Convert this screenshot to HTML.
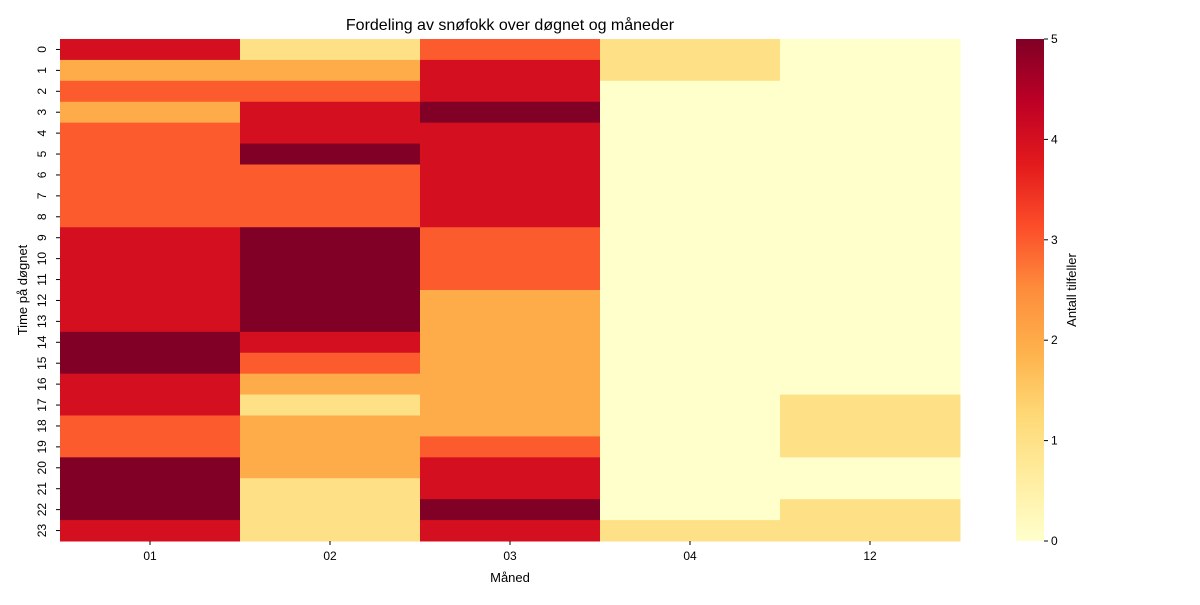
<!DOCTYPE html>
<html><head><meta charset="utf-8"><style>
body{margin:0;background:#fff;}
svg text{font-family:"Liberation Sans","DejaVu Sans",sans-serif;fill:#000;}
</style></head><body>
<svg id="chart" width="1200" height="600" xmlns="http://www.w3.org/2000/svg">
<defs><linearGradient id="cb" x1="0" y1="1" x2="0" y2="0">
<stop offset="0" stop-color="#ffffcc"/><stop offset="0.125" stop-color="#ffeda0"/><stop offset="0.25" stop-color="#fed976"/><stop offset="0.375" stop-color="#feb24c"/><stop offset="0.5" stop-color="#fd8d3c"/><stop offset="0.625" stop-color="#fc4e2a"/><stop offset="0.75" stop-color="#e31a1c"/><stop offset="0.875" stop-color="#bd0026"/><stop offset="1" stop-color="#800026"/>
</linearGradient></defs>
<text x="510" y="30" font-size="16" text-anchor="middle">Fordeling av snøfokk over døgnet og måneder</text>
<g id="cells"></g>
<g id="axes"></g>
<rect x="1016" y="39" width="28" height="502" fill="url(#cb)"/>
<text x="510" y="582" font-size="13" text-anchor="middle">Måned</text>
<text transform="translate(27,290) rotate(-90)" font-size="13" text-anchor="middle">Time på døgnet</text>
<text transform="translate(1076,290) rotate(-90)" font-size="13" text-anchor="middle">Antall tilfeller</text>
</svg>
<script>
const months = ["01","02","03","04","12"];
const hours = ["0","1","2","3","4","5","6","7","8","9","10","11","12","13","14","15","16","17","18","19","20","21","22","23"];
const m01 = [4,2,3,2,3,3,3,3,3,4,4,4,4,4,5,5,4,4,3,3,5,5,5,4];
const m02 = [1,2,3,4,4,5,3,3,3,5,5,5,5,5,4,3,2,1,2,2,2,1,1,1];
const m03 = [3,4,4,5,4,4,4,4,4,3,3,3,2,2,2,2,2,2,2,3,4,4,5,4];
const m04 = [1,1,0,0,0,0,0,0,0,0,0,0,0,0,0,0,0,0,0,0,0,0,0,1];
const m12 = [0,0,0,0,0,0,0,0,0,0,0,0,0,0,0,0,0,1,1,1,0,0,1,1];
const cbTicks = [0,1,2,3,4,5];
const series = [m01,m02,m03,m04,m12];
const vmax = 5;
const X0=60,X1=960,Y0=39,Y1=541;
const cw=(X1-X0)/months.length, ch=(Y1-Y0)/hours.length;
const xs=i=>X0+i*cw, ys=j=>Y0+j*ch, cy=v=>Y1-(v/vmax)*(Y1-Y0);
const stops=["#ffffcc","#ffeda0","#fed976","#feb24c","#fd8d3c","#fc4e2a","#e31a1c","#bd0026","#800026"];
function hex(h){return [1,3,5].map(k=>parseInt(h.substr(k,2),16));}
function color(v){let t=Math.max(0,Math.min(1,v/vmax))*(stops.length-1);let i=Math.min(Math.floor(t),stops.length-2);let f=t-i;let a=hex(stops[i]),b=hex(stops[i+1]);return "rgb("+a.map((c,k)=>Math.round(c+(b[k]-c)*f)).join(",")+")";}
const NS="http://www.w3.org/2000/svg";
const cells=document.getElementById("cells"), axes=document.getElementById("axes");
function mk(tag,attrs,parent){const e=document.createElementNS(NS,tag);for(const k in attrs)e.setAttribute(k,attrs[k]);parent.appendChild(e);return e;}
series.forEach((s,i)=>s.forEach((v,j)=>{
  const r=mk("rect",{x:xs(i),y:ys(j),width:cw+0.5,height:ch+0.5,fill:color(v)},cells);
  
  
}));
months.forEach((m,i)=>{
  const x=xs(i)+cw/2;
  mk("line",{x1:x,x2:x,y1:Y1,y2:Y1+4,stroke:"#000"},axes);
  const t=mk("text",{x:x,y:Y1+19,"font-size":12,"text-anchor":"middle"},axes);
  t.textContent=m;
  
  
});
hours.forEach((h,j)=>{
  const y=ys(j)+ch/2;
  mk("line",{x1:X0-4,x2:X0,y1:y,y2:y,stroke:"#000"},axes);
  const t=mk("text",{transform:"translate(46,"+y+") rotate(-90)","font-size":12,"text-anchor":"middle"},axes);
  t.textContent=h;
  
  
});
cbTicks.forEach(v=>{
  const y=cy(v);
  mk("line",{x1:1044,x2:1048,y1:y,y2:y,stroke:"#000"},axes);
  const t=mk("text",{x:1051,y:y+4,"font-size":12},axes);
  t.textContent=v;
  
  
});
</script>
</body></html>
